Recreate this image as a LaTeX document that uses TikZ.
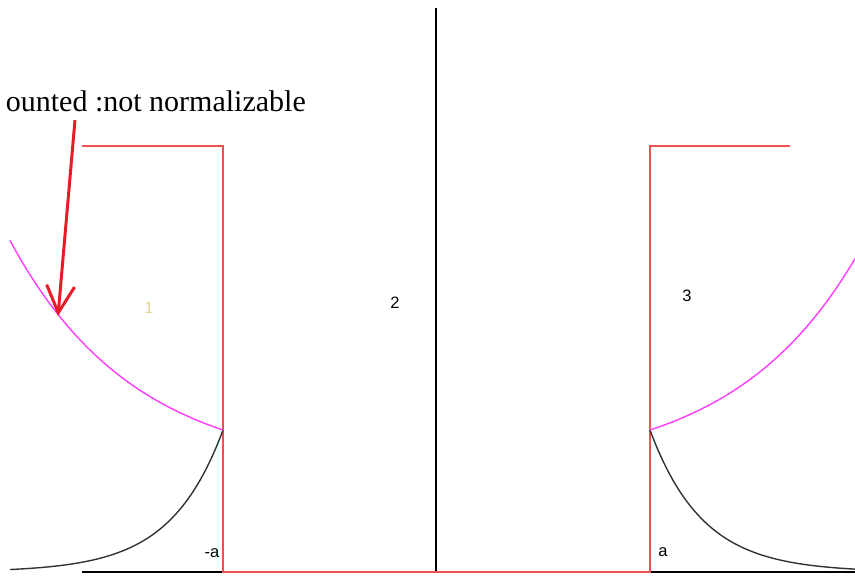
\documentclass[tikz,border=0pt]{standalone}
\usepackage{fontspec}
\setmainfont{Liberation Serif}
\newfontfamily\labfont{Liberation Sans}
\usetikzlibrary{arrows.meta}
\definecolor{wallred}{RGB}{240,80,80}
\definecolor{curvepink}{RGB}{255,60,255}
\definecolor{arrowred}{RGB}{232,28,40}
\definecolor{paleone}{RGB}{225,215,150}
\tikzset{
  wallline/.style={wallred, line width=2pt},
  axisline/.style={black, line width=1.3pt},
  decayline/.style={black!80, line width=1.4pt},
  growline/.style={curvepink, line width=1.4pt},
  lab/.style={font=\labfont\fontsize{16.5}{18}\selectfont, inner sep=0pt},
}
\begin{document}
\begin{tikzpicture}[x=1pt,y=-1pt]
\useasboundingbox (0,0) rectangle (855,576);
% axes
\coordinate (vtop) at (436,8);
\coordinate (vbot) at (436,572);
\coordinate (bl) at (82,572);
\coordinate (br) at (855,572);
\draw[axisline] (bl) -- (br);
\draw[axisline] (vtop) -- (vbot);
% potential walls
\coordinate (w1) at (82,146);
\coordinate (w2) at (223,146);
\coordinate (w3) at (223,572);
\coordinate (w4) at (650,572);
\coordinate (w5) at (650,146);
\coordinate (w6) at (790,146);
\draw[wallline] (w1) -- (w2) -- (w3) -- (w4) -- (w5) -- (w6);
% decaying solutions
\draw[decayline] plot[domain=10:223, samples=120] (\x, {572 - 142*exp(-0.019*(223-\x))});
\draw[decayline] plot[domain=650:855, samples=120] (\x, {572 - 142*exp(-0.019*(\x-650))});
% growing solutions
\draw[growline] plot[domain=10:223, samples=120] (\x, {430 - 42.2*(exp(0.008*(223-\x))-1)});
\draw[growline] plot[domain=650:855, samples=120] (\x, {430 - 41.3*(exp(0.008*(\x-650))-1)});
% text and arrow
\node[anchor=base east, inner sep=0pt, font=\fontsize{30}{34}\selectfont] (txt) at (306,111) {ounted :not normalizable};
\coordinate (as) at (75,120);
\coordinate (ae) at (58,316);
\draw[arrowred, line width=3pt, -{Straight Barb[length=27pt, width=28pt]}] (as) -- (ae);
% labels
\node[lab, text=paleone] (l1) at (149,308) {1};
\node[lab] (l2) at (395,303) {2};
\node[lab] (l3) at (687,296) {3};
\node[lab] (lma) at (212,553) {-a};
\node[lab] (la) at (663,552) {a};
\end{tikzpicture}
\end{document}
